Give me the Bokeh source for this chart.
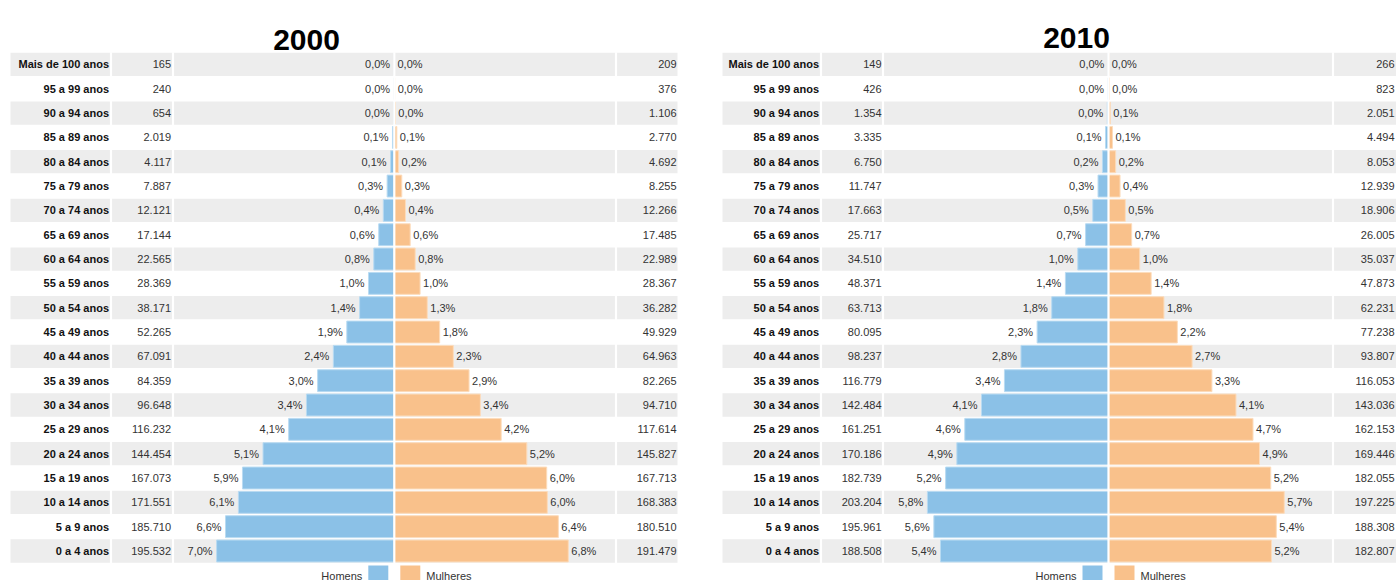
from bokeh.plotting import figure
from bokeh.layouts import row
from bokeh.models import Range1d
from bokeh.core.properties import value
from bokeh.embed import file_html
from bokeh.resources import INLINE

# ---------------- data (bottom row first) ----------------
age_groups = ["0 a 4 anos", "5 a 9 anos", "10 a 14 anos", "15 a 19 anos", "20 a 24 anos",
              "25 a 29 anos", "30 a 34 anos", "35 a 39 anos", "40 a 44 anos", "45 a 49 anos",
              "50 a 54 anos", "55 a 59 anos", "60 a 64 anos", "65 a 69 anos", "70 a 74 anos",
              "75 a 79 anos", "80 a 84 anos", "85 a 89 anos", "90 a 94 anos", "95 a 99 anos",
              "Mais de 100 anos"]
men_2000 = [195532, 185710, 171551, 167073, 144454, 116232, 96648, 84359, 67091, 52265,
            38171, 28369, 22565, 17144, 12121, 7887, 4117, 2019, 654, 240, 165]
women_2000 = [191479, 180510, 168383, 167713, 145827, 117614, 94710, 82265, 64963, 49929,
              36282, 28367, 22989, 17485, 12266, 8255, 4692, 2770, 1106, 376, 209]
men_2010 = [188508, 195961, 203204, 182739, 170186, 161251, 142484, 116779, 98237, 80095,
            63713, 48371, 34510, 25717, 17663, 11747, 6750, 3335, 1354, 426, 149]
women_2010 = [182807, 188308, 197225, 182055, 169446, 162153, 143036, 116053, 93807, 77238,
              62231, 47873, 35037, 26005, 18906, 12939, 8053, 4494, 2051, 823, 266]
legend_labels = ["Homens", "Mulheres"]
years = ["2000", "2010"]

# ---------------- styling / layout ----------------
BLUE, BLUE_EDGE = "#8bc1e7", "#b9dbf2"
ORANGE, ORANGE_EDGE = "#f9c18b", "#fcdcbc"
BAND = "#ededed"
FONT = "Liberation Sans"
H = 580
ROW0 = 550.5      # page y of centre of bottom row
ROWH = 24.33      # page px per row

GEOM = [
    dict(left=0, width=700, center=393.8, scale=25.56, tbl_l=10, tbl_r=677,
         seps=[110.5, 172.5, 615.5], lab_r=108.5, num_r=170.5, rnum_r=676,
         title_x=306, title_base=39.5),
    dict(left=700, width=696, center=1108, scale=31.05, tbl_l=722, tbl_r=1400,
         seps=[820.5, 882.5, 1332.5], lab_r=818.5, num_r=881, rnum_r=1394,
         title_x=1076, title_base=37.5),
]


def fmt_int(n):
    return f"{n:,}".replace(",", ".")


def fmt_pct(v):
    return f"{v:.1f}".replace(".", ",") + "%"


def panel(title, men, women, g):
    c, s = g["center"], g["scale"]
    X = lambda px: (px - c) / s
    Y = lambda py: (ROW0 - py) / ROWH
    p = figure(width=g["width"], height=H, output_backend="svg", toolbar_location=None,
               x_range=Range1d(X(g["left"]), X(g["left"] + g["width"])),
               y_range=Range1d(Y(H), Y(0)), min_border=0,
               outline_line_color=None, x_axis_location=None, y_axis_location=None,
               background_fill_color="white", border_fill_color="white")
    p.xgrid.visible = False
    p.ygrid.visible = False

    n = len(age_groups)
    idx = list(range(n))
    total = sum(men) + sum(women)
    pm = [m / total * 100 for m in men]
    pw = [w / total * 100 for w in women]

    # table bands
    even = [i for i in idx if i % 2 == 0]
    p.quad(left=X(g["tbl_l"]), right=X(g["tbl_r"]), bottom=[i - 0.479 for i in even],
           top=[i + 0.479 for i in even], fill_color=BAND, line_color=None)

    # bars
    p.hbar(y=idx, left=[-v for v in pm], right=0, height=0.9,
           fill_color=BLUE, line_color=BLUE_EDGE, line_width=1)
    p.hbar(y=idx, left=0, right=pw, height=0.9,
           fill_color=ORANGE, line_color=ORANGE_EDGE, line_width=1)

    # column separators
    xs = [X(v) for v in g["seps"]] + [0]
    p.segment(x0=xs, x1=xs, y0=-0.5, y1=n - 0.5, line_color="white", line_width=2.2)

    # percent labels
    p.text(x=[-v for v in pm], y=idx, text=[fmt_pct(v) for v in pm], x_offset=-4,
           text_align="right", text_baseline="middle", text_font=value(FONT),
           text_font_size="11px", text_color="#333333")
    p.text(x=pw, y=idx, text=[fmt_pct(v) for v in pw], x_offset=3,
           text_align="left", text_baseline="middle", text_font=value(FONT),
           text_font_size="11px", text_color="#333333")

    # table text
    p.text(x=X(g["lab_r"]), y=idx, text=age_groups, text_align="right",
           text_baseline="middle", text_font=value(FONT), text_font_style="bold",
           text_font_size="11px", text_color="#111111")
    p.text(x=X(g["num_r"]), y=idx, text=[fmt_int(v) for v in men], text_align="right",
           text_baseline="middle", text_font=value(FONT), text_font_size="11px",
           text_color="#333333")
    p.text(x=X(g["rnum_r"]), y=idx, text=[fmt_int(v) for v in women], text_align="right",
           text_baseline="middle", text_font=value(FONT), text_font_size="11px",
           text_color="#333333")

    # title
    p.text(x=[X(g["title_x"])], y=[Y(g["title_base"])], text=[title], text_align="center",
           text_baseline="alphabetic", text_font=value(FONT),
           text_font_style="bold", text_font_size="30px", text_color="#000000")

    # legend
    p.quad(left=[X(c - 26), X(c + 6)], right=[X(c - 6), X(c + 26)],
           top=Y(565), bottom=Y(590), fill_color=[BLUE, ORANGE], line_color=None)
    p.text(x=[X(c - 32), X(c + 32)], y=Y(575), text=legend_labels,
           text_align=["right", "left"], text_baseline="alphabetic",
           text_font=value(FONT), text_font_size="11px", text_color="#333333")
    return p


left = panel(years[0], men_2000, women_2000, GEOM[0])
right = panel(years[1], men_2010, women_2010, GEOM[1])
layout = row(left, right)

open("out.html", "w").write(file_html(layout, INLINE))
